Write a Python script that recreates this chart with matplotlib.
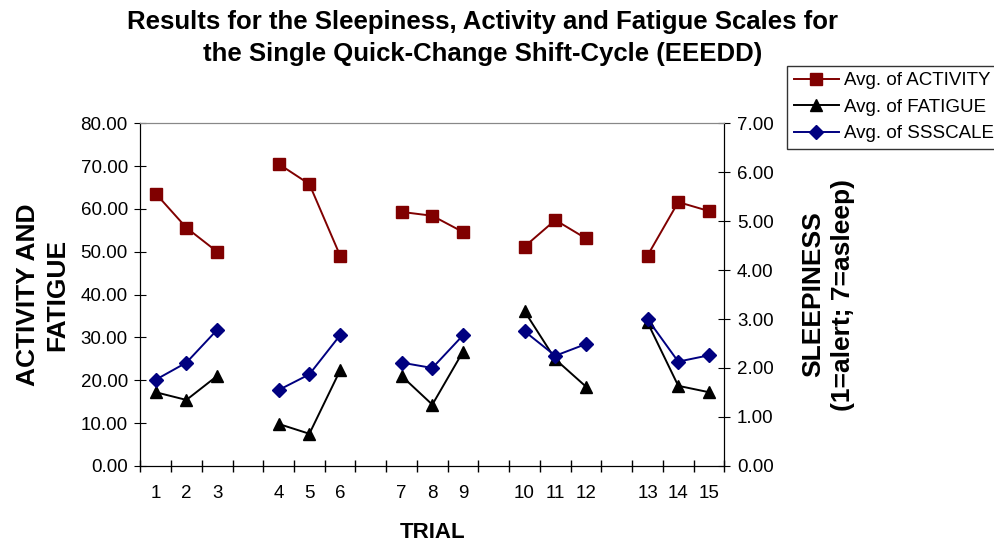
import numpy as np
import matplotlib
matplotlib.use('Agg')
import matplotlib.pyplot as plt
from matplotlib.ticker import FixedLocator, FormatStrFormatter

plt.rcParams['font.family'] = ['Liberation Sans', 'DejaVu Sans']

# categories: blank slots separate the shift-cycle groups
CATEGORIES = ['1', '2', '3', '', '4', '5', '6', '', '7', '8', '9', '',
              '10', '11', '12', '', '13', '14', '15']
ACTIVITY = [63.6, 55.6, 50.0, None, 70.5, 65.8, 49.1, None, 59.3, 58.4, 54.6, None,
            51.2, 57.4, 53.1, None, 49.1, 61.6, 59.5]
FATIGUE = [17.2, 15.4, 21.0, None, 9.8, 7.5, 22.3, None, 21.0, 14.3, 26.7, None,
           36.1, 24.9, 18.5, None, 33.5, 18.7, 17.2]
SSSCALE = [1.76, 2.11, 2.78, None, 1.55, 1.87, 2.67, None, 2.11, 2.00, 2.67, None,
           2.75, 2.25, 2.49, None, 3.00, 2.13, 2.26]

def arr(v):
    return np.array([np.nan if a is None else a for a in v], dtype=float)

x = np.arange(len(CATEGORIES))

fig = plt.figure(figsize=(9.95, 5.43), dpi=100)
ax = fig.add_axes([0.141, 0.142, 0.587, 0.631])
ax2 = ax.twinx()

l1, = ax.plot(x, arr(ACTIVITY), color='#800000', marker='s', markersize=9,
              lw=1.4, label='Avg. of ACTIVITY')
l2, = ax.plot(x, arr(FATIGUE), color='black', marker='^', markersize=9,
              lw=1.4, label='Avg. of FATIGUE')
l3, = ax2.plot(x, arr(SSSCALE), color='#000080', marker='D', markersize=7,
               lw=1.4, label='Avg. of SSSCALE')

ax.set_xlim(-0.5, len(CATEGORIES) - 0.5)
ax.set_ylim(0, 80)
ax2.set_ylim(0, 7)
ax.set_yticks(np.arange(0, 81, 10))
ax2.set_yticks(np.arange(0, 7.01, 1))
ax.yaxis.set_major_formatter(FormatStrFormatter('%.2f'))
ax2.yaxis.set_major_formatter(FormatStrFormatter('%.2f'))

ax.set_xticks(x)
ax.set_xticklabels(CATEGORIES)
ax.xaxis.set_minor_locator(FixedLocator(np.arange(-0.5, len(CATEGORIES), 1)))
ax.tick_params(axis='x', which='major', length=0, pad=14, labelsize=13.5)
ax.tick_params(axis='x', which='minor', length=8, direction='inout', width=1)
ax.tick_params(axis='y', length=8, direction='inout', labelsize=13.5, pad=5)
ax2.tick_params(axis='y', length=8, direction='inout', labelsize=13.5, pad=5)

for a in (ax, ax2):
    a.spines['top'].set_color('#888888')
    for s in ('left', 'right', 'bottom'):
        a.spines[s].set_color('black')

ax.set_xlabel('TRIAL', fontsize=16, fontweight='bold', labelpad=14)
ax.set_ylabel('ACTIVITY AND\nFATIGUE', fontsize=19, fontweight='bold', labelpad=8,
              linespacing=1.3)
ax2.set_ylabel('SLEEPINESS\n(1=alert; 7=asleep)', fontsize=19, fontweight='bold',
               rotation=90, labelpad=20, linespacing=1.3)

fig.text(0.485, 0.981, 'Results for the Sleepiness, Activity and Fatigue Scales for\n'
         'the Single Quick-Change Shift-Cycle (EEEDD)', ha='center', va='top',
         fontsize=18.5, fontweight='bold', linespacing=1.4)

leg = fig.legend(handles=[l1, l2, l3], loc='upper left', bbox_to_anchor=(0.791, 0.879),
                 frameon=True, fancybox=False, edgecolor='black', fontsize=13.5,
                 handlelength=2.4, borderpad=0.35, labelspacing=0.5, handletextpad=0.3,
                 borderaxespad=0)
leg.get_frame().set_linewidth(1.0)

fig.savefig('out.png', dpi=100)
